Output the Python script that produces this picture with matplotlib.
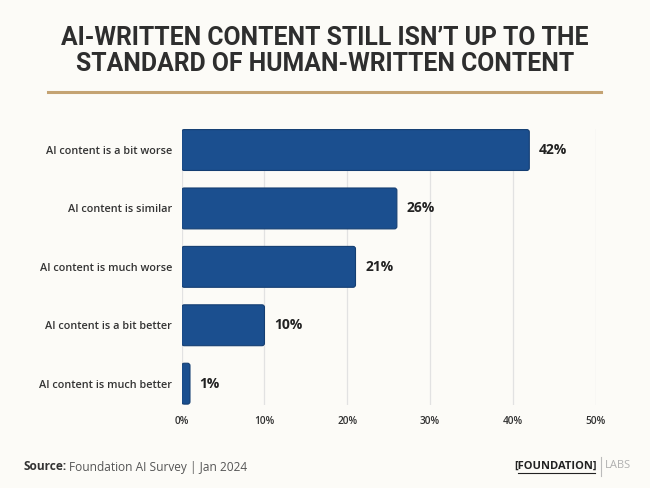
import numpy as np
import matplotlib
matplotlib.use("Agg")
import matplotlib.pyplot as plt
from matplotlib.lines import Line2D
from matplotlib.patches import FancyBboxPatch

categories = ["AI content is a bit worse", "AI content is similar",
              "AI content is much worse", "AI content is a bit better",
              "AI content is much better"]
values = [42, 26, 21, 10, 1]
xticks = [0, 10, 20, 30, 40, 50]
xtick_labels = ["0%", "10%", "20%", "30%", "40%", "50%"]
title = "AI-WRITTEN CONTENT STILL ISN\u2019T UP TO THE\nSTANDARD OF HUMAN-WRITTEN CONTENT"

BG = "#fcfbf7"
BAR = "#1b4f8f"
TXT = "#333333"
UI = ["Open Sans", "DejaVu Sans"]

W, H = 650, 488
fig = plt.figure(figsize=(W / 100, H / 100), dpi=100, facecolor=BG)

# title + gold rule
fig.text(0.5, 1 - 51 / H, title, ha="center", va="center", color="#2e2e2e",
         family=["Roboto", "DejaVu Sans"], fontweight="bold",
         fontsize=17.8, linespacing=1.1)
fig.add_artist(Line2D([48 / W, 601 / W], [1 - 91.5 / H] * 2, color="#c4a373",
                      lw=2.2, transform=fig.transFigure))

ax = fig.add_axes([181.7 / W, 1 - 404.7 / H, (595.5 - 181.7) / W, (404.7 - 129) / H])
ax.set_facecolor(BG)
y = np.arange(len(categories))
bars = ax.barh(y, values, height=0.70, color=BAR, zorder=3)
# swap the plain rectangles for slightly rounded ones of the same geometry
for p in bars.patches:
    p.set_visible(False)
    ax.add_patch(FancyBboxPatch((p.get_x(), p.get_y()), p.get_width(), p.get_height(),
                                boxstyle="round,pad=0,rounding_size=0.3",
                                mutation_aspect=0.14, facecolor=BAR,
                                edgecolor="#143e72", lw=0.8, zorder=3))
for yi, v in zip(y, values):
    ax.annotate(f"{v}%", (v, yi), xytext=(7, 0), textcoords="offset points",
                ha="left", va="center", fontsize=10, fontweight="bold",
                color="#222222", family=UI)

ax.set_xlim(0, 50)
ax.set_ylim(len(categories) - 1 + 0.36, -0.36)
ax.set_xticks(xticks)
ax.set_xticklabels(xtick_labels)
ax.set_yticks(y)
ax.set_yticklabels(categories)
ax.grid(axis="x", color="#e2e2e2", lw=0.9, zorder=0)
for s in ax.spines.values():
    s.set_visible(False)
ax.tick_params(axis="x", length=0, pad=8, labelsize=7.3, labelcolor=TXT)
ax.tick_params(axis="y", length=0, pad=7, labelsize=7.8, labelcolor=TXT)
for lbl in ax.get_xticklabels() + ax.get_yticklabels():
    lbl.set_family(UI)
    lbl.set_fontweight("semibold")

# footer
src = fig.text(23 / W, 1 - 467 / H, "Source:", ha="left", va="center", fontsize=8.6,
               fontweight="bold", color=TXT, family=UI)
fig.canvas.draw()
bb = src.get_window_extent().transformed(fig.transFigure.inverted())
fig.text(bb.x1 + 3 / W, 1 - 467 / H, "Foundation AI Survey | Jan 2024", ha="left",
         va="center", fontsize=8.6, color="#555555", family=UI)

logo = fig.text(597 / W, 1 - 466 / H, "[FOUNDATION]", ha="right", va="center",
                fontsize=8, fontweight="bold", color="#222222", family=UI)
fig.add_artist(Line2D([518 / W, 595 / W], [1 - 473 / H] * 2, color="#222222",
                      lw=0.8, transform=fig.transFigure))
fig.add_artist(Line2D([601 / W] * 2, [1 - 457 / H, 1 - 476 / H], color="#bbbbbb",
                      lw=0.8, transform=fig.transFigure))
fig.text(605 / W, 1 - 466 / H, "LABS", ha="left", va="center", fontsize=8,
         color="#b0b0b0", family=UI)

fig.savefig("out.png", dpi=100, facecolor=BG)
